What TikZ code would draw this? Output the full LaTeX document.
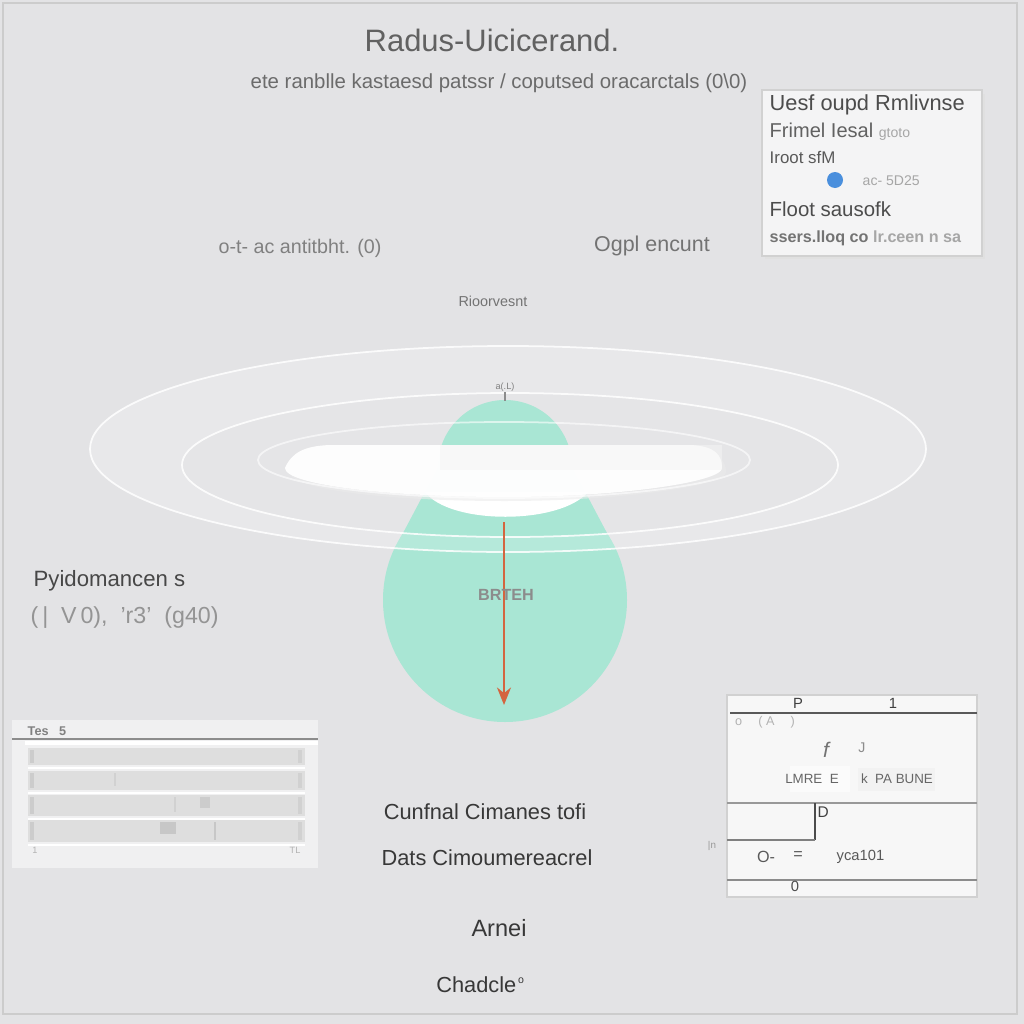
\documentclass[tikz,border=0pt]{standalone}
\usepackage{fontspec}
\setmainfont{Liberation Sans}
\usetikzlibrary{arrows.meta}
\definecolor{bgc}{HTML}{E3E3E5}
\definecolor{mint}{HTML}{A9E6D4}
\definecolor{arr}{HTML}{D3653F}
\definecolor{txd}{HTML}{4A4A4A}
\definecolor{dotb}{HTML}{4A8FDD}
\newcommand\pxf[1]{\fontsize{#1}{#1}\selectfont}
\tikzset{
  lbl/.style={inner sep=0pt, text=txd},
  ring/.style={draw=white, line width=0.5pt, opacity=0.85},
  card/.style={fill=white!60!bgc, draw=black!18, line width=0.4pt},
  rule/.style={draw=black!65, line width=0.5pt},
}
\begin{document}
\begin{tikzpicture}[x=0.01cm,y=-0.01cm]
\useasboundingbox (0,0) rectangle (1024,1024);
\fill[bgc] (0,0) rectangle (1024,1024);
\draw[black!20, line width=0.6pt] (3,3) rectangle (1017,1014);

% title
\node[lbl, text=black!62, font=\pxf{8.8pt}] (title) at (492,40) {Radus-Uicicerand.};
\node[lbl, text=black!58, font=\pxf{5.8pt}] (sub) at (499,83) {ete ranblle kastaesd patssr / coputsed oracarctals (0\textbackslash 0)};

% top right card
\fill[black!12] (765,94) rectangle (985,259);
\draw[card] (762,90) rectangle (982,256);
\node[lbl, anchor=west, font=\pxf{6.2pt}, text=black!70] (c1) at (769,105) {Uesf oupd Rmlivnse};
\node[lbl, anchor=west, font=\pxf{5.7pt}, text=black!62] (c2) at (769,132) {Frimel Iesal \textcolor{black!35}{\pxf{4pt}gtoto}};
\node[lbl, anchor=west, font=\pxf{4.8pt}, text=black!65] (c3) at (769,157) {Iroot sfM};
\fill[dotb] (835,180) circle (8);
\node[lbl, anchor=west, font=\pxf{4pt}, text=black!35] (c4) at (862,181) {ac- 5D25};
\node[lbl, anchor=west, font=\pxf{5.8pt}, text=black!70] (c5) at (769,209) {Floot sausofk};
\node[lbl, anchor=west, font=\bfseries\pxf{4.6pt}, text=black!55] (c6) at (769,238) {ssers.lloq co \textcolor{black!35}{lr.ceen n sa}};

% mid labels
\node[lbl, font=\pxf{5.6pt}, text=black!50] (m1) at (300,248) {o-t- ac antitbht. (0)};
\node[lbl, font=\pxf{6.1pt}, text=black!55] (m2) at (652,246) {Ogpl encunt};
\node[lbl, font=\pxf{4.1pt}, text=black!55] (m3) at (493,301) {Rioorvesnt};

% outer glow fill
\fill[white, opacity=0.08] (508,449) ellipse [x radius=418, y radius=103];

% green body
\fill[mint] (505,467) circle (67);
\fill[mint] (505,600) circle (122);
\fill[mint] (438,467) -- (572,467) -- (608,535) -- (402,535) -- cycle;

% white cutout below plate
\fill[white] (425,492) .. controls (450,525) and (560,525) .. (588,492) -- cycle;

% plate
\fill[black!8, opacity=0.6] (290,472) .. controls (300,455) and (320,450) .. (340,450) -- (690,450) .. controls (718,451) and (726,460) .. (726,472) .. controls (726,486) and (620,501) .. (505,501) .. controls (390,501) and (290,490) .. (290,472) -- cycle;
\fill[white, opacity=0.95] (285,468) .. controls (292,452) and (305,446) .. (330,445) -- (690,445) .. controls (715,446) and (722,455) .. (722,468) .. controls (722,482) and (620,497) .. (505,497) .. controls (390,497) and (285,485) .. (285,468) -- cycle;
\fill[black!4, opacity=0.5] (440,445) rectangle (722,470);

% rings
\fill[white, opacity=0.15, even odd rule] (508,449) ellipse [x radius=418, y radius=103] (510,465) ellipse [x radius=328, y radius=72];
\draw[ring] (508,449) ellipse [x radius=418, y radius=103];
\draw[ring] (510,465) ellipse [x radius=328, y radius=72];
\draw[ring, opacity=0.6] (504,460) ellipse [x radius=246, y radius=38];

% tick on top
\coordinate (tk) at (505,392);
\draw[black!45, line width=0.3pt] (tk) -- (505,401);
\node[lbl, font=\pxf{2.6pt}, text=black!50, anchor=south] (tkl) at (tk) {a(.L)};

% arrow
\coordinate (a0) at (504,522);
\coordinate (a1) at (504,705);
\draw[arr, line width=0.45pt, -{Stealth[length=5pt,width=4pt]}] (a0) -- (a1);
\node[lbl, font=\bfseries\pxf{4.6pt}, text=black!45] (brt) at (506,595) {BRTEH};

% left labels
\node[lbl, anchor=west, font=\pxf{6.3pt}, text=black!72] (p1) at (33,581) {Pyidomancen s};
\node[lbl, anchor=west, font=\pxf{6.6pt}, text=black!42] (p2) at (30,618) {(\,|\ \ V\,0), \ 'r3' \ (g40)};

% left table
\fill[white!45!bgc] (12,720) rectangle (318,868);
\node[lbl, anchor=west, font=\bfseries\pxf{3.6pt}, text=black!50] (t0) at (27,731) {Tes \ \ 5};
\draw[black!45, line width=0.4pt] (12,739) -- (318,739);
\draw[white, line width=1.4pt] (25,743) -- (318,743);
\foreach \ya/\yb in {748/765, 771/790, 795/816, 820/842} {
  \fill[black!13] (28,\ya) rectangle (305,\yb);
  \draw[white, line width=0.6pt] (28,\yb+3) -- (305,\yb+3);
  \fill[black!20] (30,\ya+2) rectangle (34,\yb-2);
  \fill[black!18] (298,\ya+2) rectangle (302,\yb-2);
}
\fill[black!22] (160,822) rectangle (176,834);
\fill[black!20] (200,797) rectangle (210,808);
\draw[black!22, line width=0.5pt] (215,822) -- (215,840);
\draw[black!18, line width=0.5pt] (115,773) -- (115,786);
\draw[black!18, line width=0.5pt] (175,797) -- (175,812);
\node[lbl, font=\pxf{2.6pt}, text=black!30] (tf1) at (35,850) {1};
\node[lbl, font=\pxf{2.6pt}, text=black!30] (tf2) at (295,850) {TL};

% right table
\fill[black!10] (730,699) rectangle (980,900);
\draw[card, fill=white!70!bgc] (727,695) rectangle (977,897);
\node[lbl, font=\pxf{4.2pt}, text=black!75] (r1) at (798,703) {P};
\node[lbl, font=\pxf{4.2pt}, text=black!75] (r2) at (893,703) {1};
\draw[rule] (730,713) -- (977,713);
\node[lbl, font=\pxf{3.6pt}, text=black!30] (r3) at (765,722) {o \quad ( A \quad )};
\node[lbl, font=\itshape\pxf{6pt}, text=black!55] (r4) at (826,750) {f};
\node[lbl, font=\pxf{4pt}, text=black!45] (r5) at (862,748) {J};
\fill[white, opacity=0.6] (790,766) rectangle (850,792);
\fill[black!5] (858,768) rectangle (935,791);
\node[lbl, font=\pxf{3.8pt}, text=black!60] (r6) at (812,779) {LMRE \ E};
\node[lbl, font=\pxf{3.8pt}, text=black!60] (r7) at (897,779) {k \ PA BUNE};
\draw[black!40, line width=0.4pt] (727,803) -- (977,803);
\draw[black!70, line width=0.5pt] (815,803) -- (815,840);
\draw[black!50, line width=0.4pt] (727,840) -- (815,840);
\node[lbl, anchor=west, font=\pxf{4.4pt}, text=black!75] (r8) at (817,812) {D};
\node[lbl, font=\pxf{4.6pt}, text=black!65] (r9) at (766,857) {O-};
\node[lbl, font=\pxf{4.6pt}, text=black!65] (r10) at (798,856) {=};
\node[lbl, anchor=west, font=\pxf{4.2pt}, text=black!65] (r11) at (836,857) {yca101};
\draw[black!45, line width=0.4pt] (727,880) -- (977,880);
\node[lbl, font=\pxf{4.2pt}, text=black!70] (r12) at (795,886) {0};
\node[lbl, font=\pxf{2.8pt}, text=black!40] (r13) at (712,846) {|n};

% bottom texts
\node[lbl, font=\pxf{6.2pt}, text=black!78] (b1) at (485,812) {Cunfnal Cimanes tofi};
\node[lbl, font=\pxf{6.2pt}, text=black!78] (b2) at (487,858) {Dats Cimoumereacrel};
\node[lbl, font=\pxf{6.7pt}, text=black!78] (b3) at (499,928) {Arnei};
\node[lbl, font=\pxf{6.2pt}, text=black!78] (b4) at (481,985) {Chadcle\textsuperscript{\pxf{3pt}\,o}};
\end{tikzpicture}
\end{document}
